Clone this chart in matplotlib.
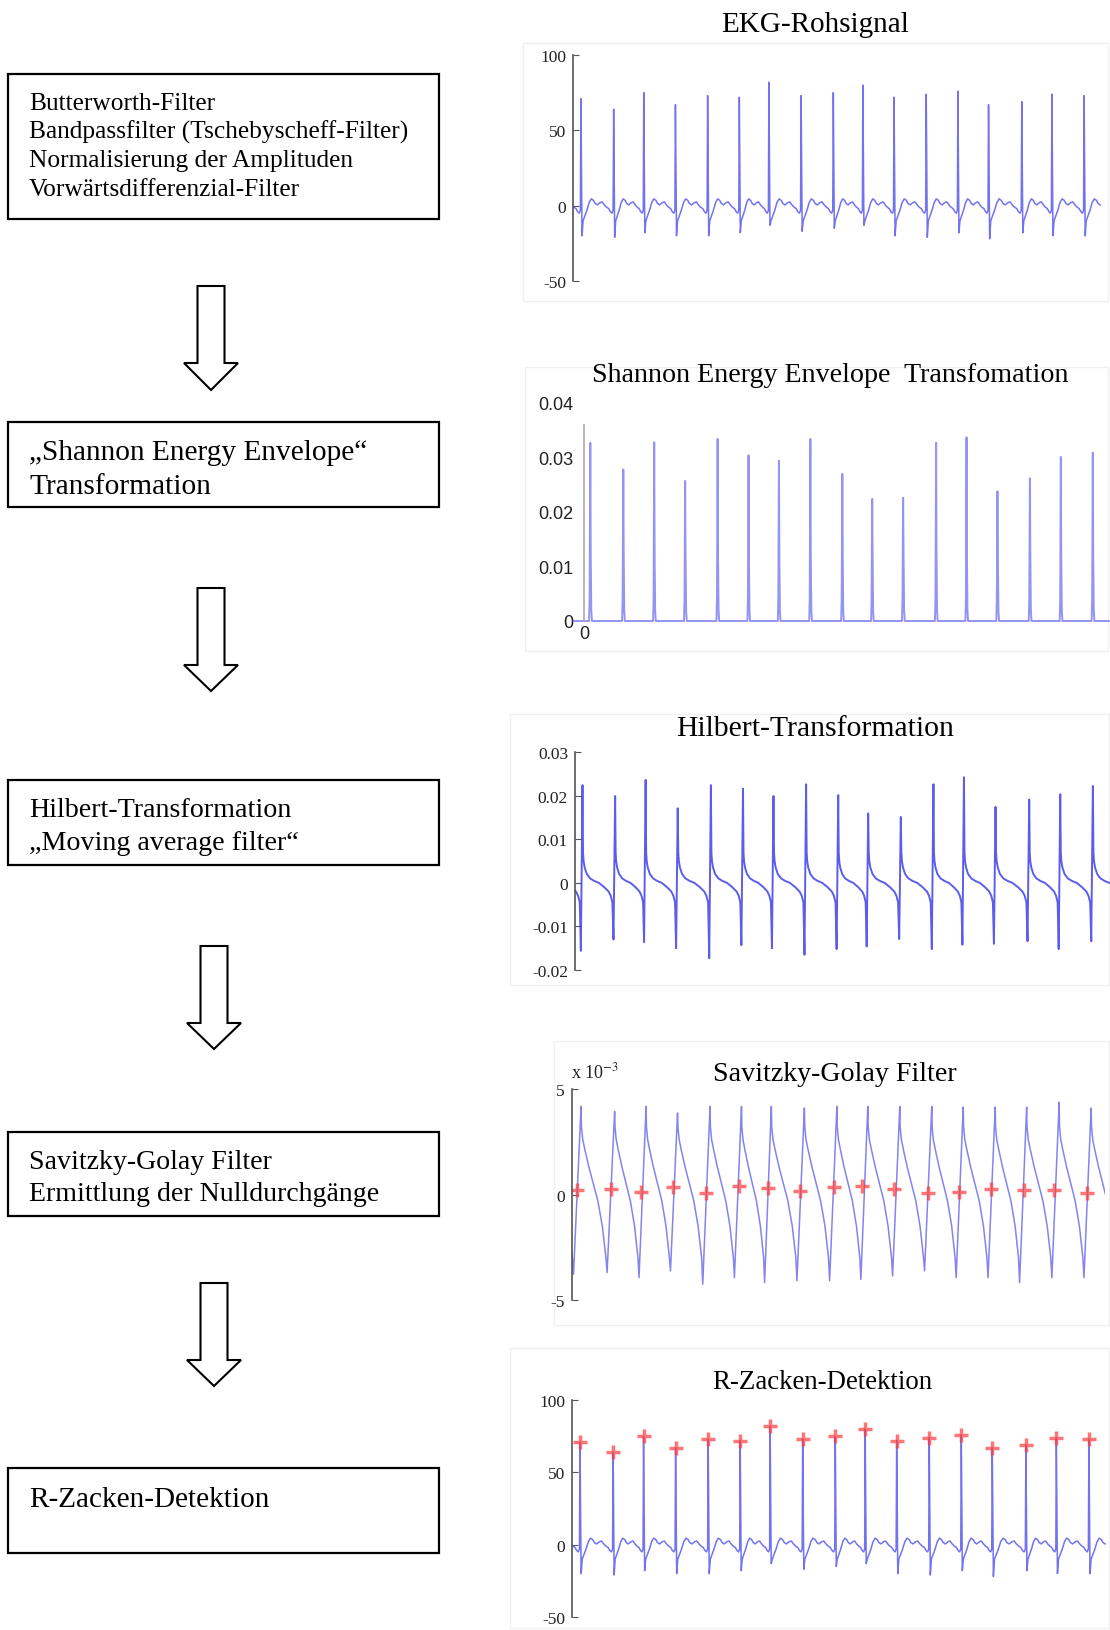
import numpy as np
import matplotlib
matplotlib.use("Agg")
import matplotlib.pyplot as plt
from matplotlib.patches import Rectangle, Polygon

W, H = 1110, 1631
plt.rcParams['mathtext.fontset'] = 'stix'
SERIF = ['Liberation Serif', 'DejaVu Serif']
SANS = ['Liberation Sans', 'DejaVu Sans']

# ---- values (x = sample, 0..1000 across each panel)
# raw ECG / R-peak detection
r_pos = [15, 77, 134, 194, 255, 315, 371, 432, 493, 549, 608, 669, 729, 787, 850, 907, 968]
r_amp = [71, 64, 75, 67, 73, 72, 82, 73, 75, 80, 72, 74, 76, 67, 69, 74, 73]
s_amp = [-20, -21, -18, -20, -20, -18, -13, -17, -15, -13, -20, -21, -18, -22, -18, -20, -20]

# Shannon energy envelope
se_pos = [12, 75, 134, 193, 255, 314, 372, 432, 493, 550, 609, 672, 730, 789, 851, 910, 971]
se_amp = [0.0327, 0.0278, 0.0328, 0.0257, 0.0334, 0.0304, 0.0294, 0.0334, 0.0270, 0.0224,
          0.0226, 0.0327, 0.0337, 0.0238, 0.0262, 0.0301, 0.0309]

# Hilbert transform
hb_pos = [14, 75, 132, 192, 254, 314, 371, 432, 492, 548, 609, 670, 727, 786, 849, 907, 968]
hb_max = [0.0224, 0.0199, 0.0236, 0.0171, 0.0224, 0.0216, 0.0199, 0.0226, 0.0201, 0.0159,
          0.0151, 0.0226, 0.0242, 0.0174, 0.0191, 0.0203, 0.0222]
hb_min = [-0.0156, -0.0130, -0.0136, -0.0150, -0.0173, -0.0143, -0.0150, -0.0165, -0.0152,
          -0.0146, -0.0129, -0.0152, -0.0142, -0.0140, -0.0134, -0.0152, -0.0134]

# Savitzky-Golay (units of 1e-3) and zero crossings
sg_pos = [17, 80, 139, 198, 259, 318, 374, 436, 497, 555, 615, 675, 734, 794, 853, 914, 974]
sg_max = [4.17, 3.94, 4.17, 3.86, 4.17, 4.17, 4.17, 4.1, 4.17, 4.17, 4.17, 4.17, 4.14, 4.14,
          4.14, 4.38, 4.1]
sg_min = [-3.78, -3.70, -3.94, -3.62, -4.25, -3.94, -4.17, -4.09, -4.09, -4.02, -3.86, -3.62,
          -3.94, -3.94, -4.17, -3.94, -3.94]
zc_x = [10, 73, 130, 189, 251, 313, 367, 427, 492, 545, 605, 667, 726, 787, 848, 905, 967]
zc_y = [0.19, 0.28, 0.13, 0.35, 0.08, 0.39, 0.31, 0.16, 0.36, 0.39, 0.28, 0.08, 0.13, 0.24,
        0.19, 0.22, 0.06]

# one-beat shapes (offset from the peak, for a 60-sample beat); 'P' / 'D' = peak / dip slot
ecg_dt = [-30, -25, -21, -17, -13, -9, -6, -3, -1, 0, 2, 4, 7, 11, 15, 19, 23, 26, 29.9]
ecg_v = [0.5, 2, 2.5, 0.5, -1, -2, -4, -5, -3, 'P', 'D', -10, -7, -3, 2, 4.5, 3.5, 1.5, 0.5]
se_dt = [-30, -2.2, -1.2, 0, 0.8, 1.8, 3, 29.9]
se_v = [0, 0, 0.004, 'P', 0.012, 0.002, 0, 0]
hb_dt = [-30, -20, -12, -8, -5, -3, 0, 1, 2, 4, 8, 14, 22, 29.9]
hb_v = [0, -0.001, -0.002, -0.003, -0.0045, 'D', 'P', 0.007, 0.005, 0.0035, 0.002, 0.001, 0.0004, 0]
sg_dt = [-30, -26, -22, -18, -15.5, -13.5, 0, 0.7, 3, 7, 14, 22, 29.9]
sg_v = [-0.3, -0.9, -1.5, -2.4, -3.0, 'D', 'P', 3.2, 2.6, 2.1, 1.3, 0.5, -0.3]

# flowchart
box_lines = [
    ["Butterworth-Filter", "Bandpassfilter (Tschebyscheff-Filter)",
     "Normalisierung der Amplituden", "Vorwärtsdifferenzial-Filter"],
    ["\u201eShannon Energy Envelope\u201c", "Transformation"],
    ["Hilbert-Transformation", "\u201eMoving average filter\u201c"],
    ["Savitzky-Golay Filter", "Ermittlung der Nulldurchgänge"],
    ["R-Zacken-Detektion"],
]
titles = ["EKG-Rohsignal", "Shannon Energy Envelope  Transfomation", "Hilbert-Transformation",
          "Savitzky-Golay Filter", "R-Zacken-Detektion"]


def beats(pos, peak, dip, dt, v):
    xs, ys = [], []
    n = len(pos)
    d = np.asarray(dt, float)
    for i in range(n):
        before = pos[i] - pos[i - 1] if i > 0 else pos[1] - pos[0]
        after = pos[i + 1] - pos[i] if i < n - 1 else pos[i] - pos[i - 1]
        x = pos[i] + np.where(d < 0, d * before / 60, d * after / 60)
        y = [peak[i] if s == 'P' else (dip[i] if s == 'D' else s) for s in v]
        xs.append(x)
        ys.append(np.array(y, float))
    return np.concatenate(xs), np.concatenate(ys)


fig = plt.figure(figsize=(W / 100, H / 100), dpi=100)
lay = fig.add_axes([0, 0, 1, 1])
lay.set_xlim(0, W)
lay.set_ylim(H, 0)
lay.axis('off')

# boxes  (left, top, right, bottom) in px
box_px = [(8, 75, 439, 220), (8, 423, 439, 508), (8, 781, 439, 866), (8, 1133, 439, 1217),
          (8, 1469, 439, 1554)]
line_y = [[103.5, 132.5, 161.5, 190.5], [453.5, 487.5], [810.5, 843.5], [1162.5, 1194.5], [1500.5]]
box_fs = [18.3, 21.2, 20.2, 20.1, 21.1]
for (l, t, r, b), lines, ys, fs in zip(box_px, box_lines, line_y, box_fs):
    lay.add_patch(Rectangle((l, t), r - l, b - t, fill=False, ec='black', lw=1.6))
    for s, y in zip(lines, ys):
        lay.text(29, y, s, fontsize=fs, family=SERIF, va='center', ha='left')

# hollow arrows (center x, top, head start, tip)
for cx, top, hs, tip in [(211, 287, 364, 391), (211, 589, 666, 692), (214, 947, 1024, 1050),
                         (214, 1284, 1361, 1387)]:
    pts = [(cx - 13.5, top), (cx + 13.5, top), (cx + 13.5, hs), (cx + 27, hs), (cx, tip),
           (cx - 27, hs), (cx - 13.5, hs)]
    lay.add_patch(Polygon(pts, closed=True, fc='white', ec='black', lw=1.5))

# faint screenshot frames around the plots
for l, t, r, b in [(523, 44, 1108, 302), (525, 368, 1108, 652), (510, 715, 1109, 986),
                   (554, 1042, 1109, 1326), (510, 1349, 1109, 1629)]:
    lay.add_patch(Rectangle((l, t), r - l, b - t, fill=False, ec='#f0f0f0', lw=1))

title_xy = [(815, 25.5), (830, 375.5), (815, 729.5), (835, 1075), (822, 1382.5)]
title_fs = [21, 20.2, 21.3, 20.2, 19.4]
for s, (x, y), fs in zip(titles, title_xy, title_fs):
    lay.text(x, y, s, fontsize=fs, family=SERIF, ha='center', va='center')


def panel(l, t, r, b, ylim, yticks, ylabels, fam=SERIF, fs=12.5):
    ax = fig.add_axes([l / W, 1 - b / H, (r - l) / W, (b - t) / H])
    ax.patch.set_alpha(0)
    ax.set_xlim(0, 1000)
    ax.set_ylim(*ylim)
    for k in ['top', 'right', 'bottom']:
        ax.spines[k].set_visible(False)
    ax.spines['left'].set_color('#555555')
    ax.spines['left'].set_linewidth(1.2)
    ax.set_xticks([])
    ax.set_yticks(yticks)
    ax.set_yticklabels(ylabels, family=fam, fontsize=fs, color='#222222')
    ax.tick_params(axis='y', direction='in', length=4, color='#555555', pad=5)
    return ax


# 1 raw ECG
ax1 = panel(573, 56, 1101, 282, (-50, 100), [-50, 0, 50, 100], ['-50', '0', '50', '100'])
x, y = beats(r_pos, r_amp, s_amp, ecg_dt, ecg_v)
ax1.plot(x, y, color='#5a5aee', lw=1.1, alpha=0.85)

# 2 Shannon energy
ax2 = panel(584, 404, 1108, 622, (0, 0.04), [0, 0.01, 0.02, 0.03, 0.04],
            ['0', '0.01', '0.02', '0.03', '0.04'], fam=SANS, fs=13)
ax2.spines['left'].set_bounds(0, 0.0359)
ax2.spines['left'].set_color('#aaaaaa')
ax2.tick_params(axis='y', length=0, pad=8)
ax2.set_xticks([0])
ax2.set_xticklabels(['0'], family=SANS, fontsize=13, color='#222222')
ax2.tick_params(axis='x', length=0, pad=3)
x, y = beats(se_pos, se_amp, se_amp, se_dt, se_v)
ax2.plot(x, y, color='#7070ee', lw=1.4, alpha=0.75, clip_on=False)

# 3 Hilbert
ax3 = panel(575, 753, 1110, 971, (-0.02, 0.03), [-0.02, -0.01, 0, 0.01, 0.02, 0.03],
            ['-0.02', '-0.01', '0', '0.01', '0.02', '0.03'])
x, y = beats(hb_pos, hb_max, hb_min, hb_dt, hb_v)
ax3.plot(x, y, color='#3434e6', lw=1.4, alpha=0.8)

# 4 Savitzky-Golay
ax4 = panel(572, 1090, 1105, 1301, (-5, 5), [-5, 0, 5], ['-5', '0', '5'])
x, y = beats(sg_pos, sg_max, sg_min, sg_dt, sg_v)
ax4.plot(x, y, color='#6e6eec', lw=1.1, alpha=0.85)
ax4.plot(zc_x, zc_y, ls='none', marker='+', ms=10, mew=2.5, color='#ff3b3b', alpha=0.7)
lay.text(571, 1072, 'x 10$^{-3}$', fontsize=13, family=SERIF, color='#222222',
         ha='left', va='center')

# 5 R-peak detection
ax5 = panel(572, 1401, 1106, 1618, (-50, 100), [-50, 0, 50, 100], ['-50', '0', '50', '100'])
x, y = beats(r_pos, r_amp, s_amp, ecg_dt, ecg_v)
ax5.plot(x, y, color='#5a5aee', lw=1.1, alpha=0.85)
ax5.plot(r_pos, r_amp, ls='none', marker='+', ms=10, mew=2.5, color='#ff3b3b', alpha=0.7)

fig.savefig('out.png', dpi=100)
